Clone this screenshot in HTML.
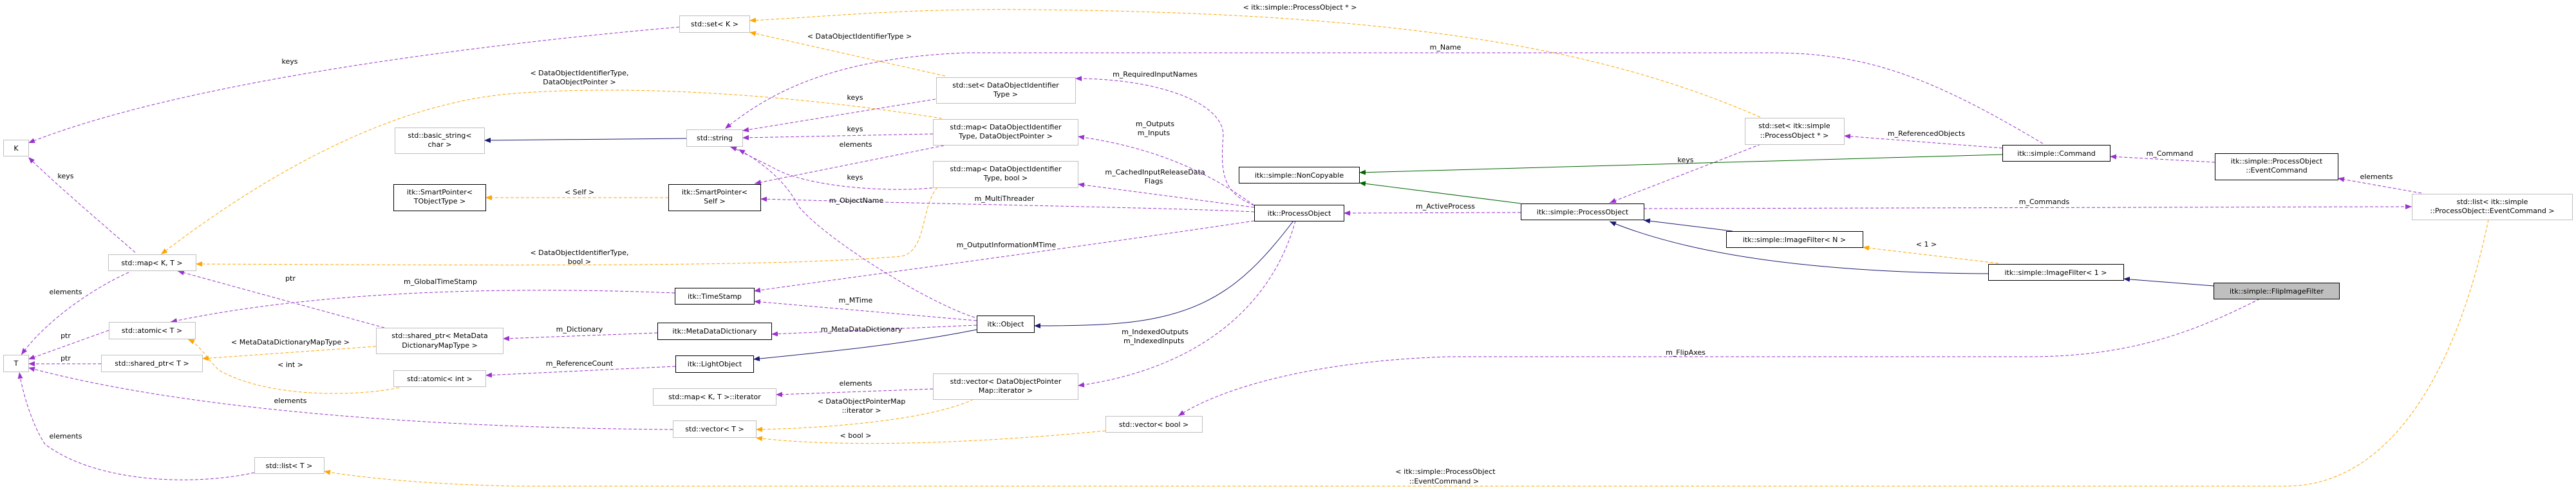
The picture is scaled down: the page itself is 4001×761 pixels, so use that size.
<!DOCTYPE html>
<html><head><meta charset="utf-8"><style>
html,body{margin:0;padding:0;background:#fff;}
svg{display:block;}
text{font-family:"DejaVu Sans","Liberation Sans",sans-serif;font-size:11px;fill:#000;}
.g{fill:#fff;stroke:#bfbfbf;stroke-width:1;}
.b{fill:#fff;stroke:#000;stroke-width:1;}
.p{fill:none;stroke:#9a32cd;stroke-dasharray:5,3;}
.o{fill:none;stroke:#ffa500;stroke-dasharray:5,3;}
.n{fill:none;stroke:#191970;}
.gr{fill:none;stroke:#006400;}
</style></head><body>
<svg width="4001" height="761" viewBox="0 0 4001 761" xmlns="http://www.w3.org/2000/svg">
<defs>
<marker id="mp" markerUnits="userSpaceOnUse" markerWidth="11" markerHeight="9" refX="10" refY="4" orient="auto"><path d="M0,0 L10,4 L0,8 z" fill="#9a32cd"/></marker>
<marker id="mo" markerUnits="userSpaceOnUse" markerWidth="11" markerHeight="9" refX="10" refY="4" orient="auto"><path d="M0,0 L10,4 L0,8 z" fill="#ffa500"/></marker>
<marker id="mn" markerUnits="userSpaceOnUse" markerWidth="11" markerHeight="9" refX="10" refY="4" orient="auto"><path d="M0,0 L10,4 L0,8 z" fill="#191970"/></marker>
<marker id="mg" markerUnits="userSpaceOnUse" markerWidth="11" markerHeight="9" refX="10" refY="4" orient="auto"><path d="M0,0 L10,4 L0,8 z" fill="#006400"/></marker>
</defs>

<!-- edges -->
<path class="p" marker-end="url(#mp)" d="M1055,42 C800,64 300,120 44,222"/>
<path class="p" marker-end="url(#mp)" d="M210,392 C150,340 80,280 44,244"/>
<path class="p" marker-end="url(#mp)" d="M200,423 C140,450 70,500 33,551"/>
<path class="p" marker-end="url(#mp)" d="M169,513 L44,558"/>
<path class="p" marker-end="url(#mp)" d="M157,565 L44,565"/>
<path class="p" marker-end="url(#mp)" d="M1045,667 C700,665 300,640 44,571"/>
<path class="p" marker-end="url(#mp)" d="M395,734 C300,755 150,750 70,690 C50,660 35,610 30,578"/>
<path class="p" marker-end="url(#mp)" d="M597,509 L276,421"/>
<path class="o" marker-end="url(#mo)" d="M584,538 L314,557"/>
<path class="o" marker-end="url(#mo)" d="M620,602 C560,615 420,620 340,575 C320,555 310,535 292,527"/>
<path class="p" marker-end="url(#mp)" d="M1048,455 C800,445 500,450 265,500"/>
<path class="o" marker-end="url(#mo)" d="M1038,307 L754,307"/>
<path class="n" marker-end="url(#mn)" d="M1066,215 L752,218"/>
<path class="o" marker-end="url(#mo)" d="M1463,184 C1250,150 1000,130 800,145 C600,160 400,280 250,395"/>
<path class="o" marker-end="url(#mo)" d="M1456,291 C1430,320 1440,390 1400,398 C1200,415 800,412 304,410"/>
<path class="o" marker-end="url(#mo)" d="M1468,118 L1164,50"/>
<path class="o" marker-end="url(#mo)" d="M2734,182 C2500,80 2200,20 1600,15 C1400,13 1300,25 1164,32"/>
<path class="p" marker-end="url(#mp)" d="M1453,154 L1153,203"/>
<path class="p" marker-end="url(#mp)" d="M1449,208 L1153,214"/>
<path class="p" marker-end="url(#mp)" d="M1466,226 L1172,285"/>
<path class="p" marker-end="url(#mp)" d="M1456,291 C1380,300 1250,290 1200,260 C1160,240 1140,230 1134,228"/>
<path class="p" marker-end="url(#mp)" d="M1514,493 C1440,470 1280,370 1240,320 C1220,280 1180,250 1147,232"/>
<path class="p" marker-end="url(#mp)" d="M1948,329 C1800,322 1500,318 1181,309"/>
<path class="p" marker-end="url(#mp)" d="M3173,223 C3000,120 2900,82 2750,82 L1500,82 C1300,90 1200,140 1126,200"/>
<path class="p" marker-end="url(#mp)" d="M1948,319 C1900,300 1895,270 1900,210 C1900,160 1800,122 1670,122"/>
<path class="p" marker-end="url(#mp)" d="M1948,319 C1880,270 1800,230 1674,212"/>
<path class="p" marker-end="url(#mp)" d="M1948,322 L1674,286"/>
<path class="p" marker-end="url(#mp)" d="M1948,343 C1700,380 1400,420 1171,452"/>
<path class="p" marker-end="url(#mp)" d="M1517,498 L1171,468"/>
<path class="p" marker-end="url(#mp)" d="M1517,505 L1198,519"/>
<path class="n" marker-end="url(#mn)" d="M1517,512 C1400,535 1300,545 1170,558"/>
<path class="n" marker-end="url(#mn)" d="M2009,343 C1950,420 1900,470 1804,492 C1750,505 1680,506 1606,506"/>
<path class="p" marker-end="url(#mp)" d="M2012,343 C1980,460 1880,570 1674,599"/>
<path class="p" marker-end="url(#mp)" d="M1021,517 L781,526"/>
<path class="p" marker-end="url(#mp)" d="M1049,569 L754,583"/>
<path class="p" marker-end="url(#mp)" d="M1449,604 L1205,613"/>
<path class="o" marker-end="url(#mo)" d="M1512,620 C1450,650 1300,665 1174,667"/>
<path class="o" marker-end="url(#mo)" d="M1717,669 C1500,690 1300,695 1174,680"/>
<path class="p" marker-end="url(#mp)" d="M3510,464 C3400,520 3300,554 3150,554 L2250,554 C2050,560 1900,600 1830,646"/>
<path class="o" marker-end="url(#mo)" d="M3865,341 C3820,560 3720,755 3550,755 L800,755 C650,752 550,740 503,732"/>
<path class="p" marker-end="url(#mp)" d="M2362,330 L2087,331"/>
<path class="gr" marker-end="url(#mg)" d="M3110,240 L2111,268"/>
<path class="gr" marker-end="url(#mg)" d="M2362,316 L2111,284"/>
<path class="p" marker-end="url(#mp)" d="M3110,230 L2864,211"/>
<path class="p" marker-end="url(#mp)" d="M2735,224 L2500,315"/>
<path class="p" marker-end="url(#mp)" d="M3440,252 L3277,243"/>
<path class="p" marker-end="url(#mp)" d="M3761,300 L3631,277"/>
<path class="p" marker-end="url(#mp)" d="M2553,324 L3746,321"/>
<path class="n" marker-end="url(#mn)" d="M2691,359 L2553,342"/>
<path class="n" marker-end="url(#mn)" d="M3088,425 C2900,424 2660,410 2500,344"/>
<path class="o" marker-end="url(#mo)" d="M3104,409 L2893,384"/>
<path class="n" marker-end="url(#mn)" d="M3438,444 L3298,433"/>

<!-- edge labels -->
<g text-anchor="middle">
<text x="450" y="99">keys</text>
<text x="102" y="277">keys</text>
<text x="102" y="457">elements</text>
<text x="102" y="525">ptr</text>
<text x="102" y="560">ptr</text>
<text x="451" y="626">elements</text>
<text x="102" y="681">elements</text>
<text x="451" y="436">ptr</text>
<text x="451" y="535">&lt; MetaDataDictionaryMapType &gt;</text>
<text x="451" y="570">&lt; int &gt;</text>
<text x="684" y="441">m_GlobalTimeStamp</text>
<text x="900" y="302">&lt; Self &gt;</text>
<text x="900" y="117">&lt; DataObjectIdentifierType,</text>
<text x="900" y="131">DataObjectPointer &gt;</text>
<text x="900" y="396">&lt; DataObjectIdentifierType,</text>
<text x="900" y="410">bool &gt;</text>
<text x="1335" y="60">&lt; DataObjectIdentifierType &gt;</text>
<text x="2019" y="15">&lt; itk::simple::ProcessObject * &gt;</text>
<text x="1328" y="155">keys</text>
<text x="1328" y="204">keys</text>
<text x="1329" y="228">elements</text>
<text x="1328" y="279">keys</text>
<text x="1330" y="315">m_ObjectName</text>
<text x="1560" y="312">m_MultiThreader</text>
<text x="2245" y="77">m_Name</text>
<text x="1794" y="119">m_RequiredInputNames</text>
<text x="1794" y="196">m_Outputs</text>
<text x="1792" y="210">m_Inputs</text>
<text x="1794" y="271">m_CachedInputReleaseData</text>
<text x="1792" y="285">Flags</text>
<text x="1563" y="384">m_OutputInformationMTime</text>
<text x="1329" y="470">m_MTime</text>
<text x="1338" y="515">m_MetaDataDictionary</text>
<text x="1794" y="519">m_IndexedOutputs</text>
<text x="1792" y="533">m_IndexedInputs</text>
<text x="900" y="515">m_Dictionary</text>
<text x="900" y="568">m_ReferenceCount</text>
<text x="1329" y="599">elements</text>
<text x="1338" y="627">&lt; DataObjectPointerMap</text>
<text x="1338" y="641">::iterator &gt;</text>
<text x="1329" y="680">&lt; bool &gt;</text>
<text x="2618" y="551">m_FlipAxes</text>
<text x="2245" y="736">&lt; itk::simple::ProcessObject</text>
<text x="2243" y="751">::EventCommand &gt;</text>
<text x="2245" y="324">m_ActiveProcess</text>
<text x="2992" y="211">m_ReferencedObjects</text>
<text x="2618" y="252">keys</text>
<text x="3370" y="242">m_Command</text>
<text x="3691" y="278">elements</text>
<text x="3175" y="317">m_Commands</text>
<text x="2992" y="383">&lt; 1 &gt;</text>
</g>

<!-- nodes -->
<g text-anchor="middle">
<rect class="g" x="5.5" y="217.5" width="39" height="25"/><text x="25" y="234">K</text>
<rect class="g" x="168.5" y="395.5" width="136" height="25"/><text x="236" y="412">std::map&lt; K, T &gt;</text>
<rect class="g" x="5.5" y="551.5" width="39" height="26"/><text x="25" y="568">T</text>
<rect class="g" x="169.5" y="500.5" width="134" height="26"/><text x="236" y="517">std::atomic&lt; T &gt;</text>
<rect class="g" x="157.5" y="551.5" width="157" height="26"/><text x="236" y="568">std::shared_ptr&lt; T &gt;</text>
<rect class="g" x="613.5" y="198.5" width="139" height="40"/><text x="683" y="214">std::basic_string&lt;</text><text x="683" y="228">char &gt;</text>
<rect class="b" x="611.5" y="286.5" width="143" height="41"/><text x="683" y="302">itk::SmartPointer&lt;</text><text x="683" y="316">TObjectType &gt;</text>
<rect class="g" x="584.5" y="509.5" width="197" height="40"/><text x="683" y="525">std::shared_ptr&lt; MetaData</text><text x="683" y="540">DictionaryMapType &gt;</text>
<rect class="g" x="611.5" y="575.5" width="143" height="25"/><text x="683" y="592">std::atomic&lt; int &gt;</text>
<rect class="g" x="395.5" y="710.5" width="108" height="25"/><text x="449" y="727">std::list&lt; T &gt;</text>

<rect class="g" x="1055.5" y="24.5" width="109" height="26"/><text x="1110" y="41">std::set&lt; K &gt;</text>
<rect class="g" x="1066.5" y="201.5" width="87" height="26"/><text x="1110" y="218">std::string</text>
<rect class="b" x="1038.5" y="286.5" width="143" height="41"/><text x="1110" y="302">itk::SmartPointer&lt;</text><text x="1110" y="316">Self &gt;</text>
<rect class="b" x="1048.5" y="447.5" width="123" height="25"/><text x="1110" y="464">itk::TimeStamp</text>
<rect class="b" x="1021.5" y="501.5" width="177" height="26"/><text x="1110" y="518">itk::MetaDataDictionary</text>
<rect class="b" x="1049.5" y="552.5" width="121" height="26"/><text x="1110" y="569">itk::LightObject</text>
<rect class="g" x="1014.5" y="603.5" width="191" height="26"/><text x="1110" y="620">std::map&lt; K, T &gt;::iterator</text>
<rect class="g" x="1045.5" y="653.5" width="129" height="26"/><text x="1110" y="670">std::vector&lt; T &gt;</text>

<rect class="g" x="1454.5" y="120.5" width="216" height="40"/><text x="1562" y="136">std::set&lt; DataObjectIdentifier</text><text x="1562" y="150">Type &gt;</text>
<rect class="g" x="1449.5" y="185.5" width="225" height="40"/><text x="1562" y="201">std::map&lt; DataObjectIdentifier</text><text x="1562" y="215">Type, DataObjectPointer &gt;</text>
<rect class="g" x="1449.5" y="250.5" width="225" height="41"/><text x="1562" y="266">std::map&lt; DataObjectIdentifier</text><text x="1562" y="280">Type, bool &gt;</text>
<rect class="b" x="1517.5" y="490.5" width="89" height="26"/><text x="1562" y="507">itk::Object</text>
<rect class="g" x="1449.5" y="580.5" width="225" height="40"/><text x="1562" y="596">std::vector&lt; DataObjectPointer</text><text x="1562" y="610">Map::iterator &gt;</text>

<rect class="b" x="1924.5" y="259.5" width="187" height="25"/><text x="2018" y="276">itk::simple::NonCopyable</text>
<rect class="b" x="1948.5" y="318.5" width="139" height="25"/><text x="2018" y="335">itk::ProcessObject</text>
<rect class="g" x="1717.5" y="646.5" width="150" height="25"/><text x="1792" y="663">std::vector&lt; bool &gt;</text>

<rect class="b" x="2362.5" y="316.5" width="191" height="25"/><text x="2458" y="333">itk::simple::ProcessObject</text>
<rect class="g" x="2710.5" y="183.5" width="154" height="41"/><text x="2787" y="199">std::set&lt; itk::simple</text><text x="2787" y="214">::ProcessObject * &gt;</text>
<rect class="b" x="3110.5" y="225.5" width="167" height="25"/><text x="3194" y="242">itk::simple::Command</text>
<rect class="b" x="2681.5" y="359.5" width="212" height="25"/><text x="2787" y="376">itk::simple::ImageFilter&lt; N &gt;</text>
<rect class="b" x="3088.5" y="410.5" width="210" height="25"/><text x="3193" y="427">itk::simple::ImageFilter&lt; 1 &gt;</text>

<rect class="b" x="3440.5" y="238.5" width="191" height="41"/><text x="3536" y="254">itk::simple::ProcessObject</text><text x="3536" y="268">::EventCommand</text>
<rect class="g" x="3746.5" y="301.5" width="249" height="40"/><text x="3871" y="317">std::list&lt; itk::simple</text><text x="3871" y="331">::ProcessObject::EventCommand &gt;</text>
<rect x="3438.5" y="439.5" width="195" height="25" fill="#bfbfbf" stroke="#000"/><text x="3536" y="456">itk::simple::FlipImageFilter</text>
</g>
</svg>
</body></html>
